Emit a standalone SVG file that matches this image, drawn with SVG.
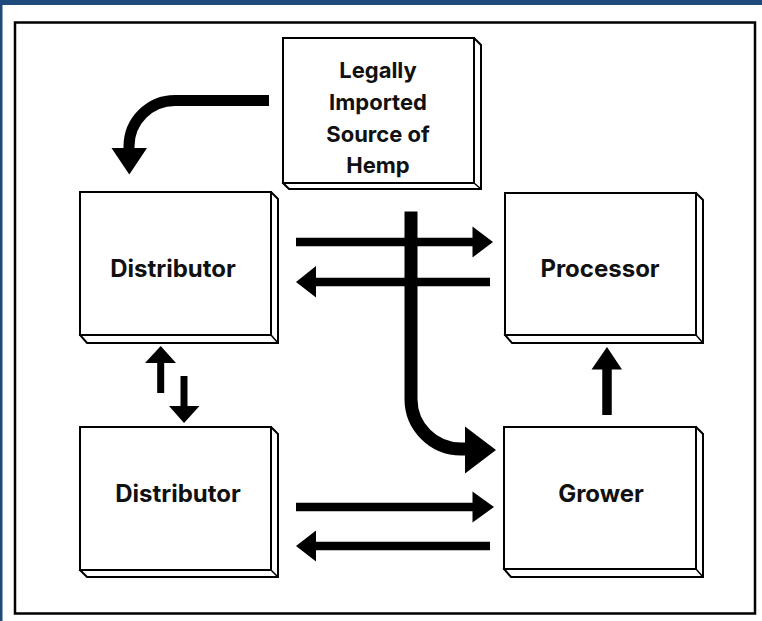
<svg xmlns="http://www.w3.org/2000/svg" width="762" height="621" viewBox="0 0 762 621">
<defs>
<style>
.face{fill:#fff;stroke:#000;stroke-width:2;stroke-linejoin:miter}
.lbl{font-family:Inter,"Open Sans","Liberation Sans",sans-serif;font-weight:700;fill:#111;text-anchor:middle}
.bar{fill:none;stroke:#000}
.head{fill:#000}
</style>
</defs>
<rect x="0" y="0" width="762" height="621" fill="#fff"/>
<rect x="0" y="0" width="762" height="5" fill="#1F4A7C"/>
<rect x="0" y="0" width="2.5" height="621" fill="#1F4A7C"/>
<rect x="15" y="22.5" width="740" height="591" fill="none" stroke="#000" stroke-width="2.5"/>

<g id="legal">
<path class="face" d="M474,38 L481,45 L481,189 L289,189 L283,183 Z"/>
<line x1="474" y1="183" x2="481" y2="189" stroke="#000" stroke-width="1.5"/>
<rect class="face" x="283" y="38" width="191" height="145"/>
<text class="lbl" font-size="22"><tspan x="378" y="78">Legally</tspan><tspan x="378" y="110">Imported</tspan><tspan x="378" y="141.5">Source of</tspan><tspan x="378" y="172.5">Hemp</tspan></text>
</g>

<g id="distributor1">
<path class="face" d="M271,192 L278,199 L278,343 L87,343 L80,335 Z"/>
<line x1="271" y1="335" x2="278" y2="343" stroke="#000" stroke-width="1.5"/>
<rect class="face" x="80" y="192" width="191" height="143"/>
<text class="lbl" font-size="24" x="173" y="277">Distributor</text>
</g>

<g id="processor">
<path class="face" d="M696,193 L703,200 L703,343 L512,343 L505,335 Z"/>
<line x1="696" y1="335" x2="703" y2="343" stroke="#000" stroke-width="1.5"/>
<rect class="face" x="505" y="193" width="191" height="142"/>
<text class="lbl" font-size="24" x="600" y="277">Processor</text>
</g>

<g id="distributor2">
<path class="face" d="M271,427 L278,434 L278,577 L87,577 L80,570 Z"/>
<line x1="271" y1="570" x2="278" y2="577" stroke="#000" stroke-width="1.5"/>
<rect class="face" x="80" y="427" width="191" height="143"/>
<text class="lbl" font-size="24" x="178" y="502">Distributor</text>
</g>

<g id="grower">
<path class="face" d="M696,427 L703,434 L703,577 L511,577 L504,569 Z"/>
<line x1="696" y1="569" x2="703" y2="577" stroke="#000" stroke-width="1.5"/>
<rect class="face" x="504" y="427" width="192" height="142"/>
<text class="lbl" font-size="24" x="601" y="502">Grower</text>
</g>

<g id="connectors">
<path class="bar" stroke-width="11" d="M269,100.5 H175 A46,46 0 0 0 129,146.5 V150"/>
<polygon class="head" points="111.5,148 147,148 129.3,174.5"/>

<path class="bar" stroke-width="8.5" d="M296,242 H474"/>
<polygon class="head" points="472.5,226.5 493,242 472.5,257.5"/>
<path class="bar" stroke-width="8.5" d="M490,282 H314"/>
<polygon class="head" points="316,266 296,282 316,297.5"/>

<path class="bar" stroke-width="13" d="M411,211.5 V399 A50,50 0 0 0 461,449 H467"/>
<polygon class="head" points="465,426.5 496,450 465,473.5"/>

<path class="bar" stroke-width="8.5" d="M296,507 H474"/>
<polygon class="head" points="472.5,491.5 494,507 472.5,522.5"/>
<path class="bar" stroke-width="8.5" d="M490,546 H314"/>
<polygon class="head" points="316,530.5 296,546 316,561.5"/>

<path class="bar" stroke-width="7" d="M160.7,393 V361"/>
<polygon class="head" points="145,363 176,363 160.7,346"/>
<path class="bar" stroke-width="7" d="M184,376 V408"/>
<polygon class="head" points="169,406 199.5,406 184,423"/>

<path class="bar" stroke-width="9.5" d="M607,415 V367"/>
<polygon class="head" points="591.5,369.5 622,369.5 607,347"/>
</g>
</svg>
